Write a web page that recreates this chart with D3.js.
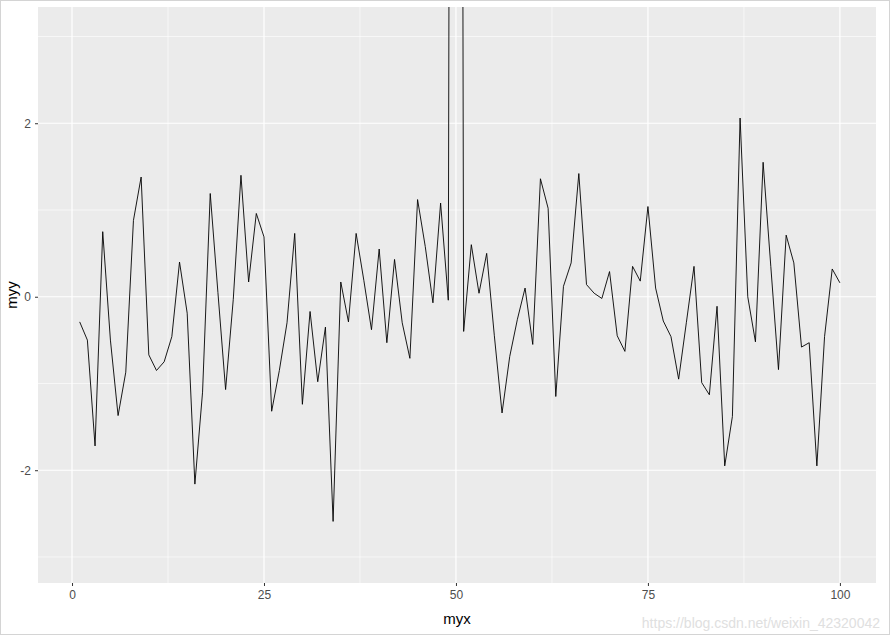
<!DOCTYPE html>
<html>
<head>
<meta charset="UTF-8">
<script src="https://d3js.org/d3.v7.min.js"></script>
<style>
  body { margin: 0; background: #fff; }
  text { font-family: "Liberation Sans", Arial, sans-serif; }
</style>
</head>
<body>
<div id="chart"></div>
<script>
  const myy = [-0.29, -0.5, -1.72, 0.75, -0.5, -1.37, -0.87, 0.88, 1.38, -0.67,
    -0.85, -0.75, -0.46, 0.4, -0.19, -2.16, -1.1, 1.19, 0.05, -1.07,
    -0.03, 1.4, 0.17, 0.96, 0.69, -1.32, -0.85, -0.3, 0.73, -1.24,
    -0.17, -0.98, -0.35, -2.59, 0.17, -0.29, 0.73, 0.19, -0.38, 0.55,
    -0.53, 0.43, -0.3, -0.71, 1.12, 0.58, -0.07, 1.08, -0.04, 40,
    -0.4, 0.6, 0.04, 0.5, -0.45, -1.34, -0.69, -0.26, 0.1, -0.55,
    1.36, 1.02, -1.15, 0.12, 0.39, 1.42, 0.14, 0.04, -0.02, 0.29,
    -0.45, -0.63, 0.35, 0.18, 1.04, 0.1, -0.28, -0.46, -0.95, -0.3,
    0.35, -0.99, -1.13, -0.11, -1.95, -1.38, 2.06, 0.0, -0.52, 1.55,
    0.35, -0.84, 0.71, 0.39, -0.58, -0.53, -1.95, -0.46, 0.32, 0.16];
  const myx = myy.map((d, i) => i + 1);
  const xTicks = [0, 25, 50, 75, 100];
  const yTicks = [-2, 0, 2];

  const W = 890, H = 635;
  const panel = {left: 38, right: 876, top: 7, bottom: 583};

  const svg = d3.select("#chart").append("svg")
    .attr("width", W).attr("height", H);

  svg.append("rect").attr("x", 0.5).attr("y", 0.5).attr("width", W - 1).attr("height", H - 1)
    .attr("fill", "#fff").attr("stroke", "#d4d4d4");

  const x = d3.scaleLinear().domain([-4.43, 104.7]).range([panel.left, panel.right]);
  const y = d3.scaleLinear().domain([-3.3, 3.34]).range([panel.bottom, panel.top]);

  svg.append("rect")
    .attr("x", panel.left).attr("y", panel.top)
    .attr("width", panel.right - panel.left).attr("height", panel.bottom - panel.top)
    .attr("fill", "#ebebeb");

  svg.append("clipPath").attr("id", "clip").append("rect")
    .attr("x", panel.left).attr("y", panel.top)
    .attr("width", panel.right - panel.left).attr("height", panel.bottom - panel.top);

  const grid = svg.append("g");
  // minor grid
  [12.5, 37.5, 62.5, 87.5].forEach(v => grid.append("line")
    .attr("x1", x(v)).attr("x2", x(v)).attr("y1", panel.top).attr("y2", panel.bottom)
    .attr("stroke", "#fff").attr("stroke-width", 0.6));
  [-3, -1, 1, 3].forEach(v => grid.append("line")
    .attr("y1", y(v)).attr("y2", y(v)).attr("x1", panel.left).attr("x2", panel.right)
    .attr("stroke", "#fff").attr("stroke-width", 0.6));
  // major grid
  xTicks.forEach(v => grid.append("line")
    .attr("x1", x(v)).attr("x2", x(v)).attr("y1", panel.top).attr("y2", panel.bottom)
    .attr("stroke", "#fff").attr("stroke-width", 1.2));
  yTicks.forEach(v => grid.append("line")
    .attr("y1", y(v)).attr("y2", y(v)).attr("x1", panel.left).attr("x2", panel.right)
    .attr("stroke", "#fff").attr("stroke-width", 1.2));

  const line = d3.line().x((d, i) => x(myx[i])).y(d => y(d));
  svg.append("path").datum(myy)
    .attr("clip-path", "url(#clip)")
    .attr("fill", "none").attr("stroke", "#000").attr("stroke-width", 0.9)
    .attr("d", line);

  const xAxis = svg.append("g").attr("transform", `translate(0,${panel.bottom})`)
    .call(d3.axisBottom(x).tickValues(xTicks).tickSize(3).tickPadding(4));
  const yAxis = svg.append("g").attr("transform", `translate(${panel.left},0)`)
    .call(d3.axisLeft(y).tickValues(yTicks).tickSize(3).tickPadding(4).tickFormat(d => d));
  [xAxis, yAxis].forEach(a => {
    a.select(".domain").remove();
    a.selectAll(".tick line").attr("stroke", "#333");
    a.selectAll(".tick text").attr("fill", "#4d4d4d").style("font-size", "12px");
  });

  svg.append("text").attr("x", (panel.left + panel.right) / 2).attr("y", 624)
    .attr("text-anchor", "middle").style("font-size", "15px").text("myx");
  svg.append("text").attr("transform", `translate(17,${(panel.top + panel.bottom) / 2}) rotate(-90)`)
    .attr("text-anchor", "middle").style("font-size", "15px").text("myy");

  svg.append("text").attr("x", 880).attr("y", 628).attr("text-anchor", "end")
    .attr("fill", "#e0e0e0").style("font-size", "14px").text("https://blog.csdn.net/weixin_42320042");
</script>
</body>
</html>
